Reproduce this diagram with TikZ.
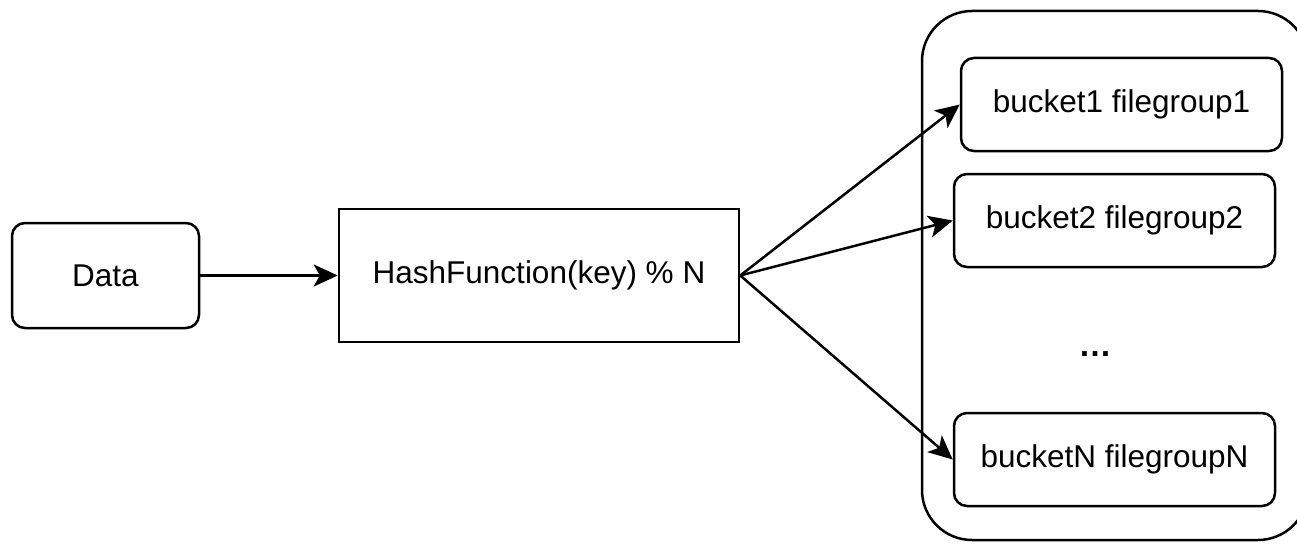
\documentclass[tikz,border=0pt]{standalone}
\usepackage{fontspec}
\setmainfont{Liberation Sans}
\usetikzlibrary{arrows.meta}
\begin{document}
\begin{tikzpicture}[x=1pt,y=-1pt,
  box/.style={draw,line width=2.5pt,inner sep=0pt,font=\fontsize{31.5}{38}\selectfont},
  rbox/.style={box,rounded corners=13pt},
  arr/.style={line width=2.5pt,-{Stealth[length=24pt,width=22pt,inset=6pt]}}]
\useasboundingbox (0,0) rectangle (1297,543);
\node[draw,line width=2.5pt,rounded corners=50pt,minimum width=386pt,minimum height=529pt] (container) at (1115,275.5) {};
\node[rbox,minimum width=187pt,minimum height=105pt] (data) at (105.5,275.5) {Data};
\node[box,minimum width=400pt,minimum height=133pt] (hash) at (539,275.5) {HashFunction(key) \% N};
\node[rbox,minimum width=321pt,minimum height=93pt] (b1) at (1121.5,104.5) {bucket1 filegroup1};
\node[rbox,minimum width=321pt,minimum height=93pt] (b2) at (1114.5,220.5) {bucket2 filegroup2};
\node[rbox,minimum width=321pt,minimum height=93pt] (bn) at (1114.5,459.5) {bucketN filegroupN};
\node[font=\fontsize{33}{38}\selectfont\bfseries,inner sep=0pt] (dots) at (1095,354) {\ldots};
\draw[arr] (data) -- (hash);
\draw[arr] (hash.east) -- (b1.west);
\draw[arr] (hash.east) -- (b2.west);
\draw[arr] (hash.east) -- (bn.west);
\end{tikzpicture}
\end{document}
